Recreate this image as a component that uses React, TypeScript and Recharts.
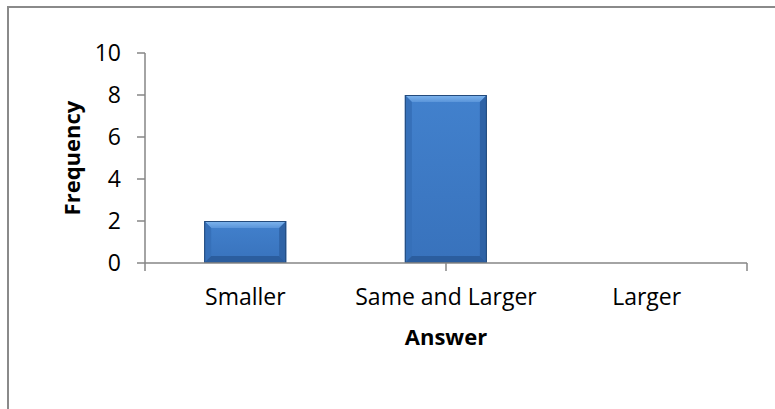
import { BarChart, Bar, XAxis, YAxis } from "recharts";

// answers and how often each came up
const categories = ["Smaller", "Same and Larger", "Larger"];
const frequency = [2, 8, 0];
const yTicks = [0, 2, 4, 6, 8, 10];
const edgeTicks = [0, 1, 2, 3]; // category boundaries on the x axis

const data = categories.map((answer, i) => ({ answer, frequency: frequency[i] }));

const axisGray = "#868686";

// bevelled Office-style bar
const BevelBar = (props: any) => {
  const { x, y, width: w, height: h } = props;
  if (!h || h <= 0) return null;
  const b = Math.min(7, h / 2, w / 2);
  return (
    <g>
      <rect x={x} y={y} width={w} height={h} fill="url(#barBody)" />
      <polygon
        points={`${x},${y} ${x + w},${y} ${x + w - b},${y + b} ${x + b},${y + b}`}
        fill="url(#barTop)"
      />
      <polygon
        points={`${x},${y} ${x + b},${y + b} ${x + b},${y + h - b} ${x},${y + h}`}
        fill="#3670b9"
      />
      <polygon
        points={`${x + w},${y} ${x + w - b},${y + b} ${x + w - b},${y + h - b} ${x + w},${y + h}`}
        fill="#2f63a6"
      />
      <polygon
        points={`${x},${y + h} ${x + b},${y + h - b} ${x + w - b},${y + h - b} ${x + w},${y + h}`}
        fill="#2b5d9e"
      />
      <rect x={x + 0.5} y={y + 0.5} width={w - 1} height={h - 1} fill="none" stroke="#244b7c" strokeWidth={1} />
    </g>
  );
};

const NoLabel = () => <g />;

export default function App() {
  return (
    <div style={{ position: "absolute", left: 0, top: 0, width: 775, height: 409, overflow: "hidden", background: "#fff" }}>
      <div
        style={{
          position: "absolute",
          left: 7,
          top: 6,
          width: 800,
          height: 450,
          border: "2px solid #8a8a8a",
        }}
      />
      <div style={{ position: "absolute", left: 0, top: 0 }}>
        <BarChart
          width={775}
          height={409}
          data={data}
          margin={{ top: 53, right: 28, left: 0, bottom: 0 }}
          barCategoryGap="29.5%"
          style={{ fontFamily: "'Open Sans', sans-serif" }}
        >
          <defs>
            <linearGradient id="barBody" x1="0" y1="0" x2="0" y2="1">
              <stop offset="0%" stopColor="#4281cd" />
              <stop offset="100%" stopColor="#3872bc" />
            </linearGradient>
            <linearGradient id="barTop" x1="0" y1="0" x2="0" y2="1">
              <stop offset="0%" stopColor="#80b6ee" />
              <stop offset="100%" stopColor="#5a95da" />
            </linearGradient>
          </defs>
          <XAxis
            xAxisId="edges"
            type="number"
            domain={[0, 3]}
            ticks={edgeTicks}
            interval={0}
            allowDataOverflow
            height={1}
            tick={<NoLabel />}
            tickSize={8}
            axisLine={{ stroke: axisGray, strokeWidth: 1.5 }}
            tickLine={{ stroke: axisGray, strokeWidth: 1.5 }}
          />
          <XAxis
            xAxisId="names"
            dataKey="answer"
            height={145}
            axisLine={false}
            tickLine={false}
            tickSize={0}
            tickMargin={25}
            tick={{ fill: "#000", fontSize: 23 }}
            label={{ value: "Answer", position: "insideTop", offset: 65, fill: "#000", fontSize: 22, fontWeight: "bold" }}
          />
          <YAxis
            width={145}
            domain={[0, 10]}
            ticks={yTicks}
            tickSize={8}
            tickMargin={16}
            axisLine={{ stroke: axisGray, strokeWidth: 1.5 }}
            tickLine={{ stroke: axisGray, strokeWidth: 1.5 }}
            tick={{ fill: "#000", fontSize: 23 }}
            label={{ value: "Frequency", angle: -90, position: "center", fill: "#000", fontSize: 22, fontWeight: "bold" }}
          />
          <Bar dataKey="frequency" xAxisId="names" shape={<BevelBar />} isAnimationActive={false} />
        </BarChart>
      </div>
    </div>
  );
}
